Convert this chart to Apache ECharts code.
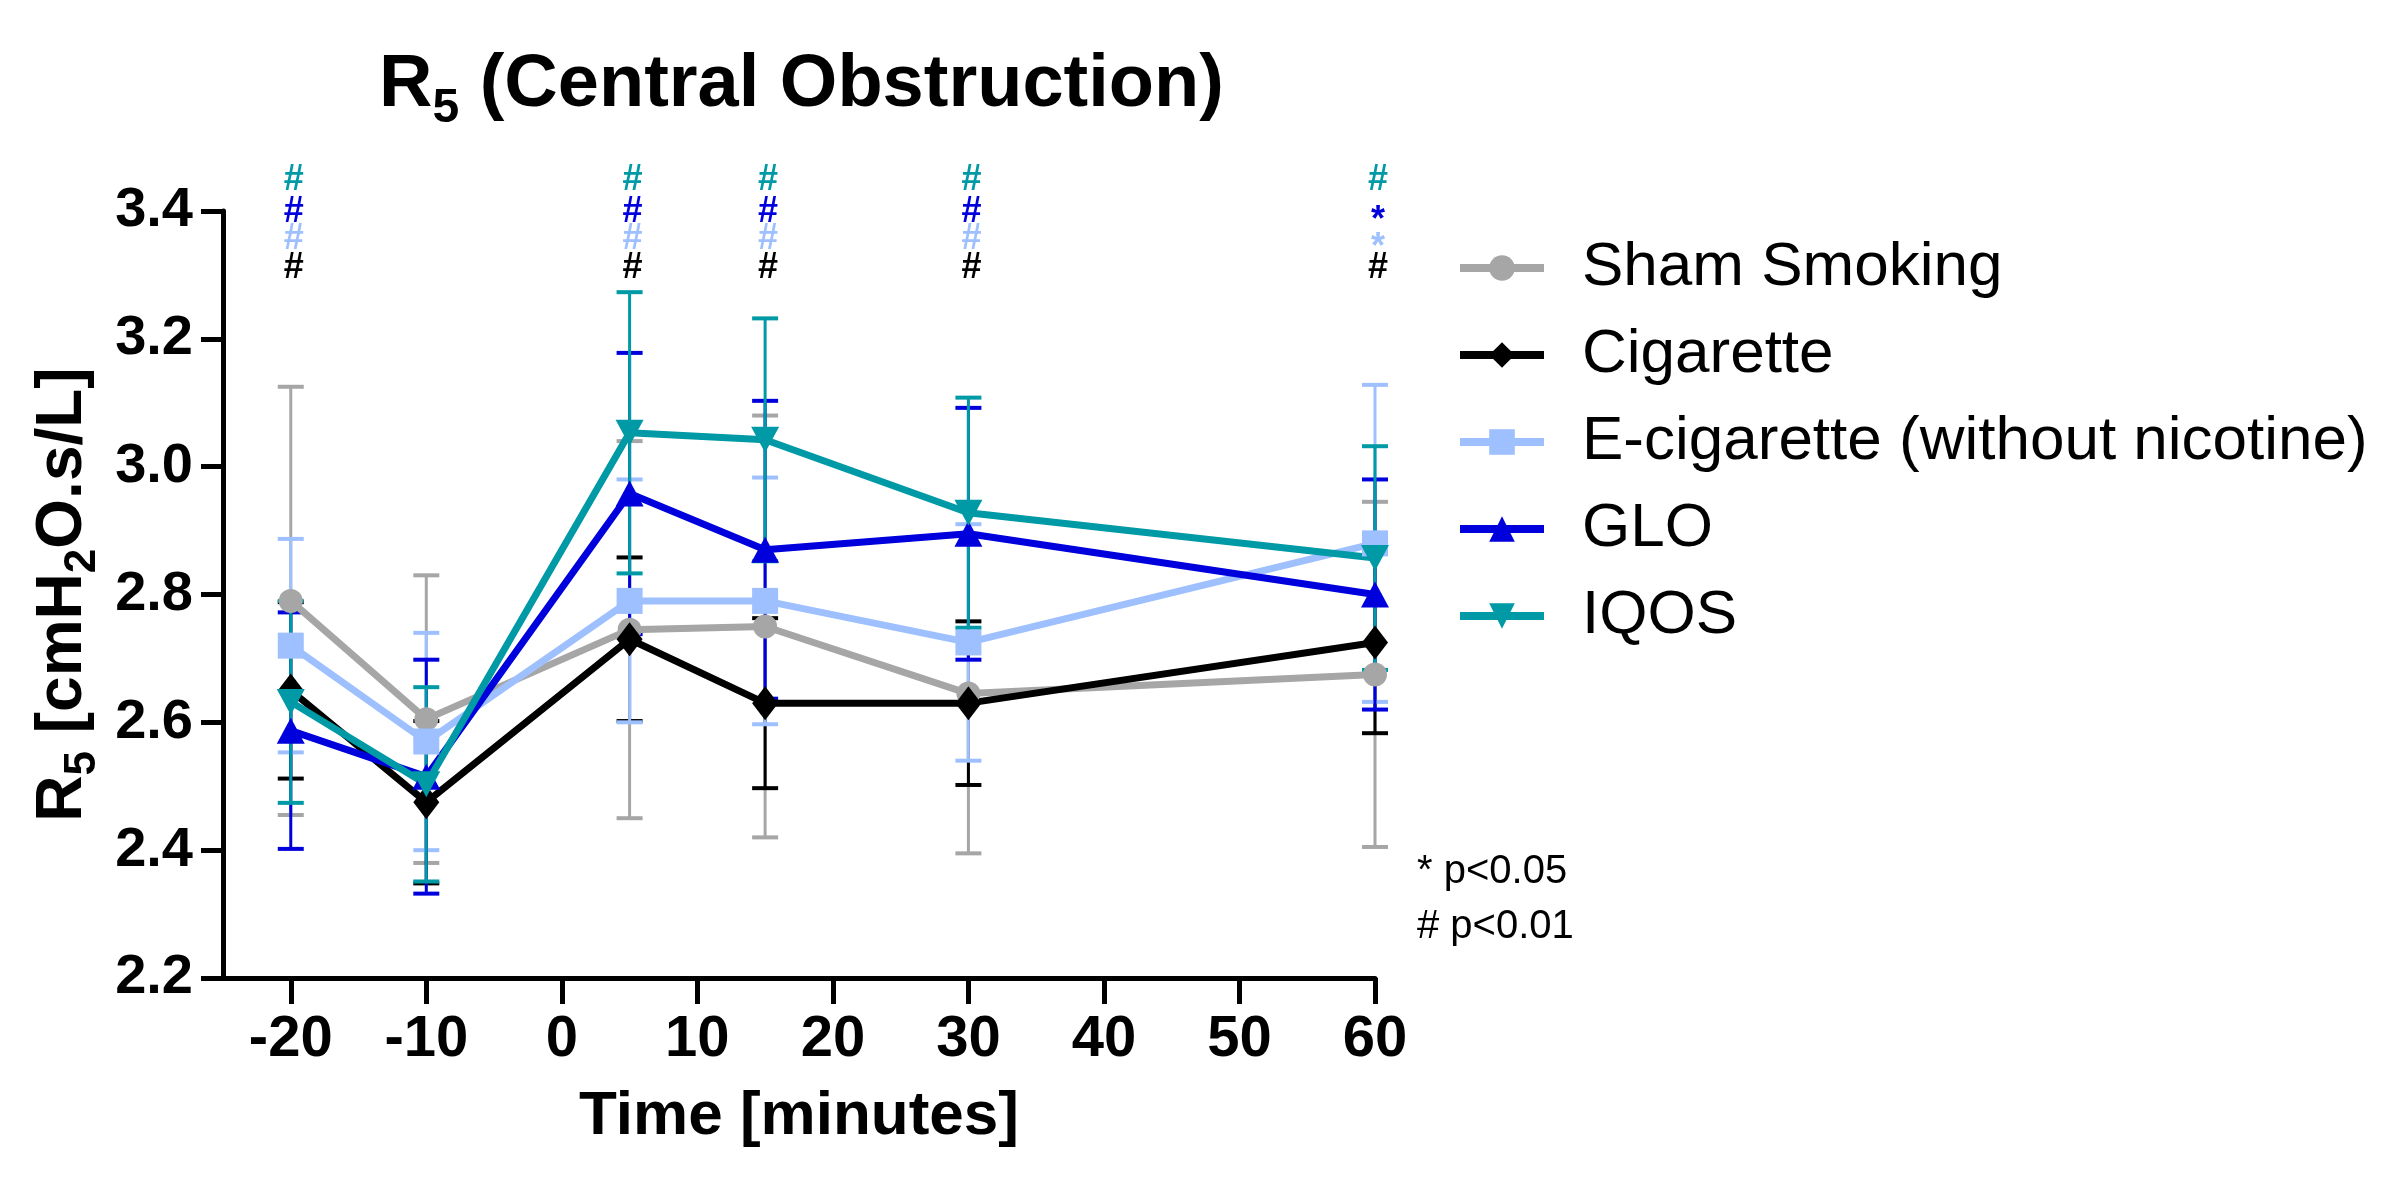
<!DOCTYPE html>
<html>
<head>
<meta charset="utf-8">
<title>R5 (Central Obstruction)</title>
<script src="https://cdn.jsdelivr.net/npm/echarts@6/dist/echarts.min.js"></script>
<style>
    html, body { margin: 0; padding: 0; background: #fff; }
    #chart { width: 2396px; height: 1182px; }
</style>
</head>
<body>
<div id="chart"></div>
<script>
    // time points (minutes) and x tick labels
    var times = [-20, -10, 5, 15, 30, 60];
    var xTicks = [-20, -10, 0, 10, 20, 30, 40, 50, 60];

    // means and SD per group
    var shamMean = [2.790, 2.605, 2.745, 2.750, 2.645, 2.675];
    var shamSd   = [0.335, 0.225, 0.295, 0.330, 0.250, 0.270];
    var cigMean  = [2.650, 2.475, 2.730, 2.630, 2.630, 2.725];
    var cigSd    = [0.138, 0.127, 0.128, 0.133, 0.128, 0.142];
    var ecigMean = [2.720, 2.570, 2.790, 2.790, 2.725, 2.880];
    var ecigSd   = [0.167, 0.170, 0.190, 0.193, 0.185, 0.248];
    var gloMean  = [2.587, 2.515, 2.958, 2.870, 2.895, 2.800];
    var gloSd    = [0.185, 0.183, 0.220, 0.233, 0.197, 0.180];
    var iqosMean = [2.632, 2.503, 3.053, 3.042, 2.928, 2.857];
    var iqosSd   = [0.158, 0.152, 0.220, 0.190, 0.180, 0.175];

    // significance marks above the time points
    var sigTimes = [-20, 5, 15, 30, 60];
    var iqosSig = ['#', '#', '#', '#', '#'];
    var gloSig  = ['#', '#', '#', '#', '*'];
    var ecigSig = ['#', '#', '#', '#', '*'];
    var cigSig  = ['#', '#', '#', '#', '#'];

    var yMin = 2.2, yMax = 3.4, yStep = 0.2;
    var FONT = '"Liberation Sans", Arial, sans-serif';

    var groups = [
        {name: 'Sham Smoking', mean: shamMean, sd: shamSd, color: '#a6a6a6', symbol: 'circle', size: 24},
        {name: 'Cigarette', mean: cigMean, sd: cigSd, color: '#000000', symbol: 'diamond', size: [26, 34]},
        {name: 'E-cigarette (without nicotine)', mean: ecigMean, sd: ecigSd, color: '#9ec0ff', symbol: 'rect', size: 26},
        {name: 'GLO', mean: gloMean, sd: gloSd, color: '#0000dd', symbol: 'triangle', size: [28, 26]},
        {name: 'IQOS', mean: iqosMean, sd: iqosSd, color: '#0099a6', symbol: 'triangle', size: [28, 26], rotate: 180}
    ];

    function errorSeries(g) {
        return {
            type: 'custom',
            name: g.name + ' SD',
            clip: false,
            silent: true,
            z: 2,
            data: times.map(function (t, i) { return [t, g.mean[i] - g.sd[i], g.mean[i] + g.sd[i]]; }),
            encode: {x: 0, y: [1, 2]},
            renderItem: function (params, api) {
                var lo = api.coord([api.value(0), api.value(1)]);
                var hi = api.coord([api.value(0), api.value(2)]);
                var w = 13;
                return {
                    type: 'group',
                    children: [
                        {type: 'line', shape: {x1: lo[0], y1: lo[1], x2: hi[0], y2: hi[1]}, style: {stroke: g.color, lineWidth: 3}},
                        {type: 'line', shape: {x1: lo[0] - w, y1: lo[1], x2: lo[0] + w, y2: lo[1]}, style: {stroke: g.color, lineWidth: 4}},
                        {type: 'line', shape: {x1: hi[0] - w, y1: hi[1], x2: hi[0] + w, y2: hi[1]}, style: {stroke: g.color, lineWidth: 4}}
                    ]
                };
            }
        };
    }

    function lineSeries(g) {
        return {
            type: 'line',
            name: g.name,
            data: times.map(function (t, i) { return [t, g.mean[i]]; }),
            symbol: g.symbol,
            symbolSize: g.size,
            symbolRotate: g.rotate || 0,
            showAllSymbol: true,
            lineStyle: {color: g.color, width: 7},
            itemStyle: {color: g.color},
            z: 3
        };
    }

    // rows of marks stacked above the top of the y axis (pixel offsets)
    var rowOffsets = [-31, 1, 28, 57];
    function sigSeries(marks, color, row) {
        return {
            type: 'custom',
            clip: false,
            silent: true,
            z: 5,
            data: sigTimes.map(function (t) { return [t, yMax]; }),
            renderItem: function (params, api) {
                var p = api.coord([api.value(0), api.value(1)]);
                var m = marks[params.dataIndex];
                return {
                    type: 'text',
                    x: p[0] + 3,
                    y: p[1] + rowOffsets[row] + (m === '*' ? 9 : 0),
                    style: {text: m, fill: color, font: 'bold 36px ' + FONT, align: 'center', verticalAlign: 'middle'}
                };
            }
        };
    }

    var series = [];
    groups.forEach(function (g) { series.push(errorSeries(g)); });
    groups.forEach(function (g) { series.push(lineSeries(g)); });
    series.push(sigSeries(iqosSig, groups[4].color, 0));
    series.push(sigSeries(gloSig, groups[3].color, 1));
    series.push(sigSeries(ecigSig, groups[2].color, 2));
    series.push(sigSeries(cigSig, groups[1].color, 3));

    var bold = {fontFamily: FONT, fontWeight: 'bold', color: '#000'};

    var chart = echarts.init(document.getElementById('chart'));
    chart.setOption({
        animation: false,
        backgroundColor: '#fff',
        title: {
            text: '{a|R}{s|5}{a| (Central Obstruction)}',
            left: 374,
            top: 44,
            textStyle: {
                rich: {
                    a: Object.assign({fontSize: 74, verticalAlign: 'top'}, bold),
                    s: Object.assign({fontSize: 48, verticalAlign: 'top', padding: [36, 0, 0, 0]}, bold)
                }
            }
        },
        legend: {
            data: groups.map(function (g) { return g.name; }),
            orient: 'vertical',
            left: 1451,
            top: 232,
            itemWidth: 84,
            itemHeight: 32,
            itemGap: 25,
            lineStyle: {width: 8},
            textStyle: {fontFamily: FONT, fontSize: 62, lineHeight: 62, color: '#000', padding: [0, 0, 0, 33]}
        },
        grid: {left: 223, right: 1021, top: 211, bottom: 204, outerBoundsMode: 'none'},
        xAxis: {
            type: 'value',
            min: -25,
            max: 60,
            axisLine: {lineStyle: {color: '#000', width: 5}},
            axisTick: {customValues: xTicks, length: 26, lineStyle: {color: '#000', width: 5}},
            axisLabel: Object.assign({customValues: xTicks, fontSize: 58, margin: 33}, bold),
            splitLine: {show: false},
            name: 'Time [minutes]',
            nameLocation: 'middle',
            nameGap: 108,
            nameTextStyle: Object.assign({fontSize: 62}, bold)
        },
        yAxis: {
            type: 'value',
            min: yMin,
            max: yMax,
            interval: yStep,
            axisLine: {show: true, onZero: false, lineStyle: {color: '#000', width: 5}},
            axisTick: {show: true, length: 22, lineStyle: {color: '#000', width: 5}},
            axisLabel: Object.assign({fontSize: 56, margin: 30, formatter: function (v) { return v.toFixed(1); }}, bold),
            splitLine: {show: false},
            name: '{a|R}{s|5}{a| [cmH}{s|2}{a|O.s/L]}',
            nameLocation: 'middle',
            nameRotate: 90,
            nameGap: 118,
            nameTextStyle: {
                rich: {
                    a: Object.assign({fontSize: 64, verticalAlign: 'top'}, bold),
                    s: Object.assign({fontSize: 44, verticalAlign: 'top', padding: [30, 0, 0, 0]}, bold)
                }
            }
        },
        graphic: [
            {type: 'text', x: 1417, y: 872, style: {text: '* p<0.05', font: '40px ' + FONT, fill: '#000', verticalAlign: 'middle'}},
            {type: 'text', x: 1417, y: 927, style: {text: '# p<0.01', font: '40px ' + FONT, fill: '#000', verticalAlign: 'middle'}}
        ],
        series: series
    });
</script>
</body>
</html>
